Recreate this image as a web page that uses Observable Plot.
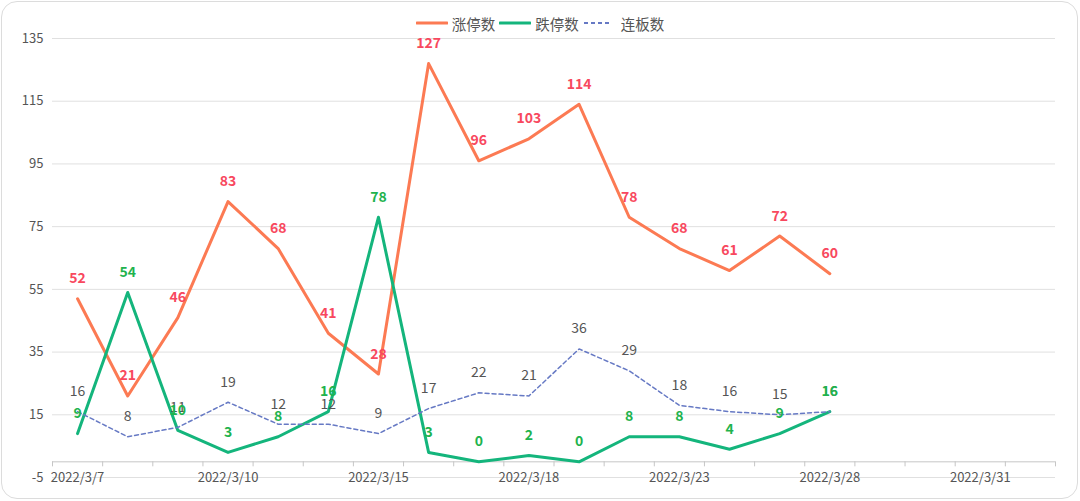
<!DOCTYPE html>
<html>
<head>
<meta charset="utf-8">
<script src="https://cdn.jsdelivr.net/npm/d3@7"></script>
<script src="https://cdn.jsdelivr.net/npm/@observablehq/plot@0.6"></script>
<style>
  html, body { margin: 0; padding: 0; background: #fff; }
  body { font-family: "Microsoft YaHei", "Noto Sans CJK SC", "Noto Sans", sans-serif; }
  #wrap { position: relative; width: 1080px; height: 501px; overflow: hidden; }
  #frame { position: absolute; left: 1px; top: 1px; width: 1077px; height: 498px; box-sizing: border-box;
           border: 1.5px solid #dcdcdc; border-radius: 16px; }
  #legend { position: absolute; left: 0; top: 12px; width: 1080px; height: 22px; display: flex;
            justify-content: center; align-items: center; font-size: 14.5px; color: #555; }
  .item { display: flex; align-items: center; margin: 0 2px; }
  .sw { display: block; margin-right: 4px; }
  #chart { position: absolute; left: 0; top: 30px; }
</style>
</head>
<body>
<div id="wrap">
  <div id="frame"></div>
  <div id="legend"></div>
  <div id="chart"></div>
</div>
<script>
// ---- data ----
const dates = ["2022/3/7","2022/3/8","2022/3/9","2022/3/10","2022/3/11","2022/3/14","2022/3/15","2022/3/16",
  "2022/3/17","2022/3/18","2022/3/21","2022/3/22","2022/3/23","2022/3/24","2022/3/25","2022/3/28",
  "2022/3/29","2022/3/30","2022/3/31","2022/4/1"];
const limitUp   = [52, 21, 46, 83, 68, 41, 28, 127, 96, 103, 114, 78, 68, 61, 72, 60];
const limitDown = [9, 54, 10, 3, 8, 16, 78, 3, 0, 2, 0, 8, 8, 4, 9, 16];
const streak    = [16, 8, 11, 19, 12, 12, 9, 17, 22, 21, 36, 29, 18, 16, 15, 16];
const yTicks = [-5, 15, 35, 55, 75, 95, 115, 135];
const xTickLabels = ["2022/3/7","2022/3/10","2022/3/15","2022/3/18","2022/3/23","2022/3/28","2022/3/31"];
const seriesNames = ["涨停数", "跌停数", "连板数"];

// ---- styles ----
const cUp = "#fc7a53", cDown = "#14b57c", cStreak = "#6679c4";
const lUp = "#f8485e", lDown = "#1fb34e", lStreak = "#555";

// legend
const legend = document.getElementById("legend");
const swatches = [
  `<svg class="sw" width="32" height="6"><line x1="1" y1="3" x2="31" y2="3" stroke="${cUp}" stroke-width="3" stroke-linecap="round"/></svg>`,
  `<svg class="sw" width="32" height="6"><line x1="1" y1="3" x2="31" y2="3" stroke="${cDown}" stroke-width="3" stroke-linecap="round"/></svg>`,
  `<svg class="sw" width="32" height="6" style="margin-right:6px"><line x1="1" y1="3" x2="29" y2="3" stroke="${cStreak}" stroke-width="2" stroke-dasharray="4,3"/></svg>`
];
seriesNames.forEach((n, k) => {
  const it = document.createElement("div");
  it.className = "item";
  it.innerHTML = `${swatches[k]}<span>${n}</span>`;
  legend.appendChild(it);
});

const rows = (arr) => arr.map((v, i) => ({ i, v, date: dates[i] }));
const up = rows(limitUp), down = rows(limitDown), st = rows(streak);
const bounds = d3.range(dates.length + 1).map(k => k - 0.5);
const labelIdx = xTickLabels.map(d => dates.indexOf(d));

const chart = Plot.plot({
  width: 1080,
  height: 471,
  marginTop: 8,
  marginBottom: 24,
  marginLeft: 52,
  marginRight: 25,
  style: { fontFamily: '"Microsoft YaHei", "Noto Sans CJK SC", "Noto Sans", sans-serif', background: "transparent" },
  x: { domain: [-0.5, dates.length - 0.5], axis: null },
  y: { domain: [-5, 135], axis: null },
  marks: [
    Plot.ruleY(yTicks, { stroke: "#e0e0e0", strokeWidth: 1 }),
    Plot.ruleY([0], { stroke: "#c6c6c6", strokeWidth: 1 }),
    Plot.ruleX(bounds, { x: d => d, y1: 0, y2: -1.6, stroke: "#c6c6c6" }),
    Plot.text(yTicks, { x: -0.5, y: d => d, text: d => String(d), textAnchor: "end", dx: -9, fill: "#555", fontSize: 13 }),
    Plot.text(labelIdx, { x: d => d, y: -5, text: d => dates[d], fill: "#555", fontSize: 13 }),
    Plot.line(up, { x: "i", y: "v", stroke: cUp, strokeWidth: 3, curve: "linear" }),
    Plot.line(down, { x: "i", y: "v", stroke: cDown, strokeWidth: 3, curve: "linear" }),
    Plot.line(st, { x: "i", y: "v", stroke: cStreak, strokeWidth: 1.5, strokeDasharray: "4,3" }),
    Plot.text(st, { x: "i", y: "v", text: d => String(d.v), dy: -20, fill: lStreak, fontSize: 14 }),
    Plot.text(up, { x: "i", y: "v", text: d => String(d.v), dy: -20, fill: lUp, fontSize: 14, fontWeight: "bold" }),
    Plot.text(down, { x: "i", y: "v", text: d => String(d.v), dy: -20, fill: lDown, fontSize: 14, fontWeight: "bold" })
  ]
});
document.getElementById("chart").appendChild(chart);
</script>
</body>
</html>
